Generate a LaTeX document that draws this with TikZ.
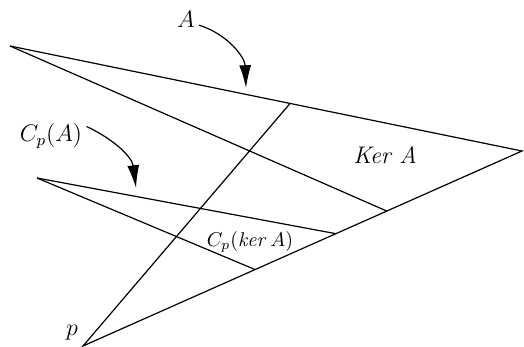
\documentclass[tikz,border=0pt]{standalone}
\usepackage{amsmath,amssymb}
\usepackage{xcolor}
\usepackage{tikz}
\usetikzlibrary{arrows.meta,calc}

\begin{document}
\begin{tikzpicture}[
    x=0.5pt, y=-0.5pt,
    edge/.style={line width=0.6pt},
    bendarrow/.style={-{Latex[length=4mm, width=2.1mm]}, line width=0.6pt},
    lbl/.style={inner sep=2pt, font=\large},
    smalllbl/.style={inner sep=2pt, font=\normalsize}
]
\useasboundingbox (0,0) rectangle (524,347);
% corner points of the two cones
\coordinate (outer) at (10,46);
\coordinate (inner) at (37,178);
\coordinate (apex) at (83,346);
\coordinate (far) at (522,151);
\coordinate (topcut) at ($(outer)!0.547!(far)$);
\coordinate (kercut) at ($(apex)!0.692!(far)$);
\coordinate (cpcut) at ($(apex)!0.576!(far)$);
\coordinate (cpkcut) at ($(apex)!0.392!(far)$);
\coordinate (tipA) at (246,88);
\coordinate (tipC) at (136,188);
% labels
\node[lbl] (lblA) at (186,19) {$A$};
\node[lbl] (lblCpA) at (51,136) {$C_p(A)$};
\node[lbl] (lblKer) at (385,155) {\textit{Ker A}};
\node[smalllbl] (lblCpKer) at (250,242) {$C_p(\mathit{ker}\,A)$};
\node[lbl] (lblP) at (72,333) {$p$};
% lines
\draw[edge] (outer) -- (far) -- (apex) -- (topcut);
\draw[edge] (outer) -- (kercut);
\draw[edge] (inner) -- (cpcut);
\draw[edge] (inner) -- (cpkcut);
% arrows
\draw[bendarrow] (lblA.-25) to[out=-18, in=92] (tipA);
\draw[bendarrow] (lblCpA.15) to[out=-25, in=97] (tipC);
\end{tikzpicture}
\end{document}
